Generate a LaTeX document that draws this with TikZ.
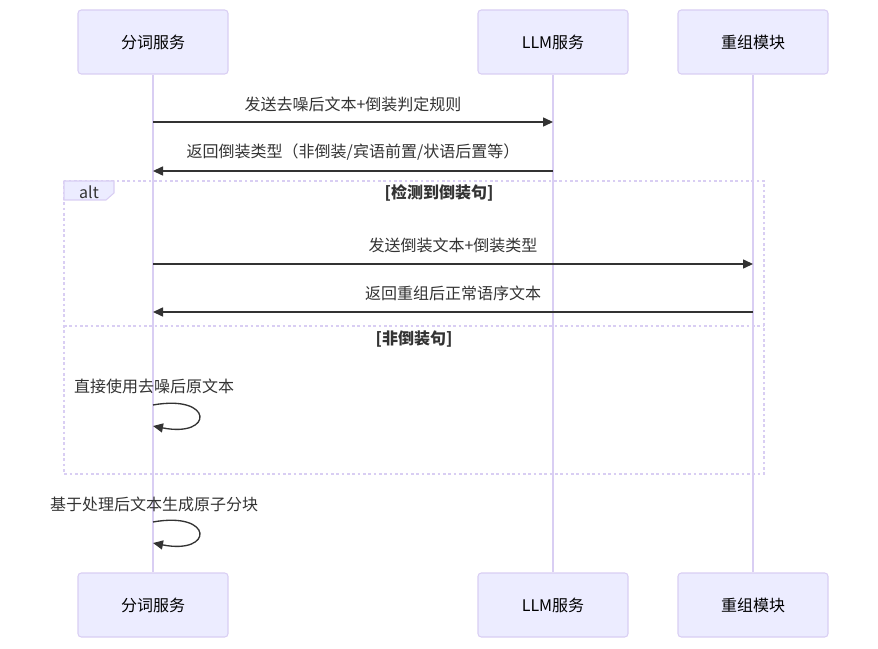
\documentclass[tikz,border=0pt]{standalone}
\usepackage{fontspec}
\setmainfont{Noto Sans CJK SC}
\usepackage{xcolor}
\usetikzlibrary{positioning,arrows.meta,calc}
\definecolor{actfill}{HTML}{ECECFF}
\definecolor{actline}{HTML}{D9CEF3}
\definecolor{msgline}{HTML}{333333}

\begin{document}
\begin{tikzpicture}[
  x=0.75pt, y=-0.75pt,
  font=\fontsize{12}{14}\selectfont,
  actor/.style={draw=actline, fill=actfill, line width=0.8pt, rounded corners=2.5pt,
    minimum width=112.5pt, minimum height=48pt, inner sep=0pt},
  life/.style={draw=actline, line width=1.1pt},
  msg/.style={draw=msgline, line width=1pt, -{Triangle[length=7.5pt,width=6.8pt]}},
  lbl/.style={text=msgline, inner sep=0pt},
  cond/.style={lbl, font=\fontsize{12}{14}\selectfont\bfseries},
  frame/.style={draw=actline, line width=1pt, dash pattern=on 2pt off 2pt}
]
\useasboundingbox (0,0) rectangle (878,649);

% participants (top and bottom)
\node[actor] (segT) at (153,42) {分词服务};
\node[actor] (llmT) at (553,42) {LLM服务};
\node[actor] (recT) at (753,42) {重组模块};
\node[actor] (segB) at (153,605) {分词服务};
\node[actor] (llmB) at (553,605) {LLM服务};
\node[actor] (recB) at (753,605) {重组模块};

% lifelines
\draw[life] (segT) -- (segB);
\draw[life] (llmT) -- (llmB);
\draw[life] (recT) -- (recB);

% alt frame
\draw[frame] (64,181) rectangle (764,474);
\draw[frame] (64,326) -- (764,326);
\filldraw[fill=actfill, draw=actline, line width=0.8pt]
  (64,181) -- (114,181) -- (114,193) -- (106,200) -- (64,200) -- cycle;
\node[lbl] (altT) at (89,192) {alt};
\node[cond] (cnd1) at (439,193) {[检测到倒装句]};
\node[cond] (cnd2) at (414,339) {[非倒装句]};

% message anchors on the lifelines
\coordinate (a1) at (153,122); \coordinate (b1) at (553,122);
\coordinate (a2) at (153,171); \coordinate (b2) at (553,171);
\coordinate (a3) at (153,264); \coordinate (c3) at (753,264);
\coordinate (a4) at (153,312); \coordinate (c4) at (753,312);

% messages
\draw[msg] (a1) -- (b1);
\node[lbl] (m1) at (353,104) {发送去噪后文本+倒装判定规则};
\draw[msg] (b2) -- (a2);
\node[lbl] (m2) at (353,152) {返回倒装类型（非倒装/宾语前置/状语后置等）};
\draw[msg] (a3) -- (c3);
\node[lbl] (m3) at (453,245) {发送倒装文本+倒装类型};
\draw[msg] (c4) -- (a4);
\node[lbl] (m4) at (453,293) {返回重组后正常语序文本};

% self messages
\coordinate (s1a) at (153,405); \coordinate (s1b) at (153,426);
\node[lbl] (m5) at (154,386) {直接使用去噪后原文本};
\draw[msg] (s1a) .. controls (214,394) and (214,438) .. (s1b);
\coordinate (s2a) at (153,522); \coordinate (s2b) at (153,543);
\node[lbl] (m6) at (154,504) {基于处理后文本生成原子分块};
\draw[msg] (s2a) .. controls (214,511) and (214,555) .. (s2b);
\end{tikzpicture}
\end{document}
